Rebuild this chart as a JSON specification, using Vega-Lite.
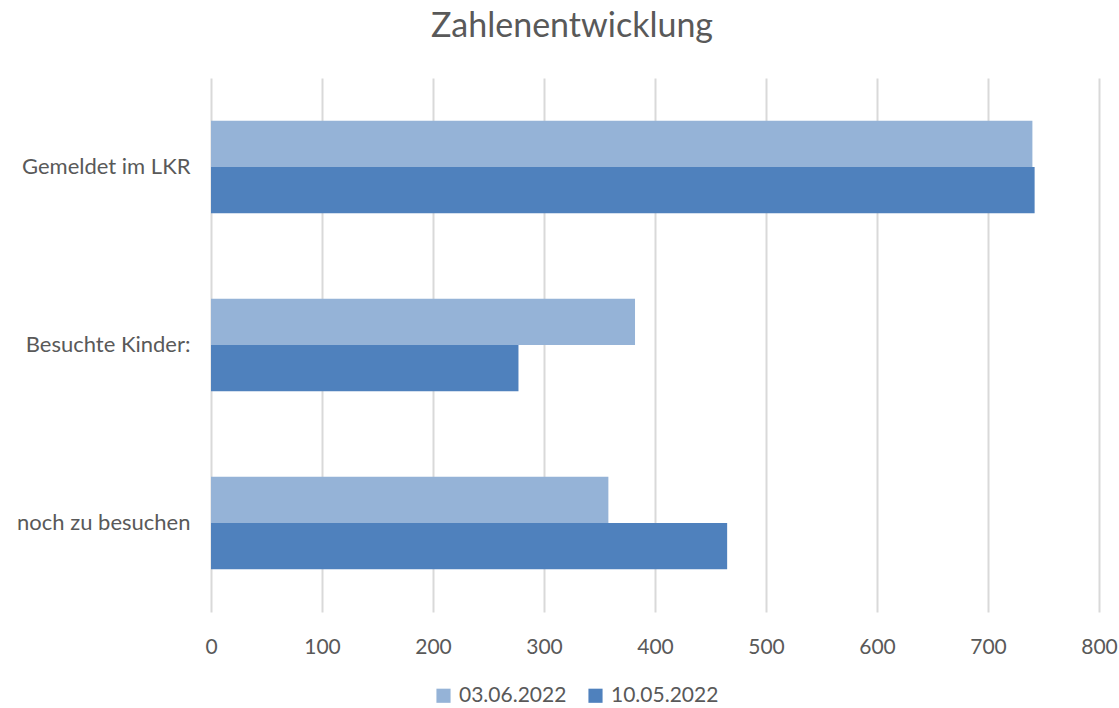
{
  "$schema": "https://vega.github.io/schema/vega-lite/v6.json",
  "autosize": "none",
  "width": 888,
  "height": 534,
  "padding": {"left": 211, "top": 78, "right": 20, "bottom": 96},
  "background": "white",
  "config": {
    "font": "Lato",
    "view": {"stroke": null}
  },
  "title": {
    "text": "Zahlenentwicklung",
    "fontSize": 34,
    "fontWeight": "normal",
    "color": "#595959",
    "anchor": "middle",
    "dx": -83,
    "offset": 34
  },
  "data": {
    "values": [
      {"Kategorie": "Gemeldet im LKR", "Datum": "03.06.2022", "Wert": 740},
      {"Kategorie": "Gemeldet im LKR", "Datum": "10.05.2022", "Wert": 742},
      {"Kategorie": "Besuchte Kinder:", "Datum": "03.06.2022", "Wert": 382},
      {"Kategorie": "Besuchte Kinder:", "Datum": "10.05.2022", "Wert": 277},
      {"Kategorie": "noch zu besuchen", "Datum": "03.06.2022", "Wert": 358},
      {"Kategorie": "noch zu besuchen", "Datum": "10.05.2022", "Wert": 465}
    ]
  },
  "mark": {"type": "bar"},
  "encoding": {
    "y": {
      "field": "Kategorie",
      "type": "nominal",
      "sort": ["Gemeldet im LKR", "Besuchte Kinder:", "noch zu besuchen"],
      "scale": {"paddingInner": 0.48, "paddingOuter": 0.24},
      "axis": {
        "title": null,
        "domain": false,
        "ticks": false,
        "labelFontSize": 22,
        "labelColor": "#595959",
        "labelPadding": 21
      }
    },
    "yOffset": {
      "field": "Datum",
      "type": "nominal",
      "sort": ["03.06.2022", "10.05.2022"],
      "scale": {"paddingInner": 0, "paddingOuter": 0}
    },
    "x": {
      "field": "Wert",
      "type": "quantitative",
      "scale": {"domain": [0, 800], "nice": false},
      "axis": {
        "title": null,
        "domain": false,
        "ticks": false,
        "values": [0, 100, 200, 300, 400, 500, 600, 700, 800],
        "grid": true,
        "gridColor": "#D9D9D9",
        "gridWidth": 2,
        "labelFlush": false,
        "labelFontSize": 21,
        "labelColor": "#595959",
        "labelPadding": 24
      }
    },
    "color": {
      "field": "Datum",
      "type": "nominal",
      "sort": ["03.06.2022", "10.05.2022"],
      "scale": {"domain": ["03.06.2022", "10.05.2022"], "range": ["#95B3D7", "#4F81BD"]},
      "legend": {
        "title": null,
        "orient": "none",
        "direction": "horizontal",
        "legendX": 222,
        "legendY": 607,
        "symbolType": "square",
        "symbolSize": 200,
        "symbolStrokeWidth": 0,
        "labelFontSize": 21,
        "labelColor": "#595959",
        "columnPadding": 18,
        "labelOffset": 5
      }
    }
  }
}
